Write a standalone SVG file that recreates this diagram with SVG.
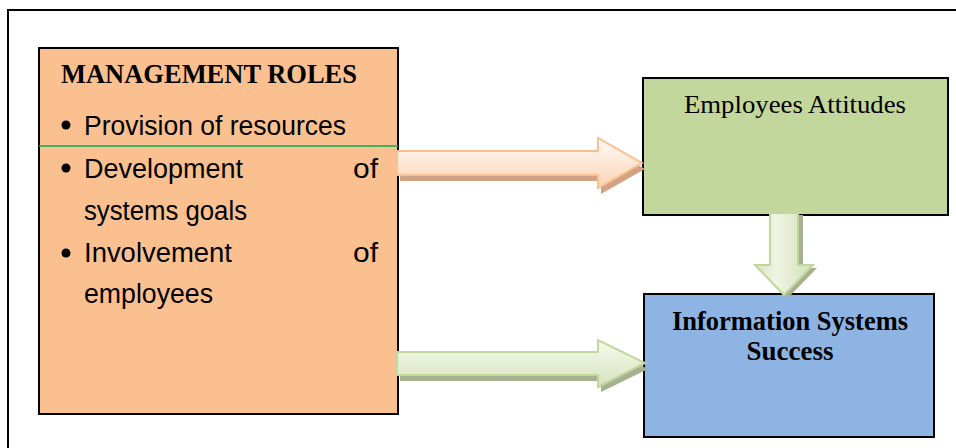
<svg xmlns="http://www.w3.org/2000/svg" width="956" height="448" viewBox="0 0 956 448">
<defs>
<style>
.box{stroke:#000;stroke-width:2}
.serif{font-family:"Liberation Serif","Times New Roman",serif;font-size:26px;fill:#000}
.sans{font-family:"Liberation Sans",Arial,sans-serif;font-size:27px;fill:#000}
.b{font-weight:bold;font-size:27px}
</style>
<linearGradient id="gOr" x1="0" y1="0" x2="0" y2="1">
<stop offset="0" stop-color="#fffaf6"/><stop offset="1" stop-color="#fbd3b3"/>
</linearGradient>
<linearGradient id="gGr" x1="0" y1="0" x2="0" y2="1">
<stop offset="0" stop-color="#f6f9ef"/><stop offset="1" stop-color="#d6e3bc"/>
</linearGradient>
<linearGradient id="gGrV" x1="0" y1="0" x2="1" y2="0">
<stop offset="0" stop-color="#d6e3bc"/><stop offset="0.35" stop-color="#eef4e3"/><stop offset="1" stop-color="#d3e1b8"/>
</linearGradient>
</defs>
<rect width="956" height="448" fill="#fff"/>
<path d="M8,448 V10 H956" fill="none" stroke="#000" stroke-width="2"/>

<g id="management-roles">
<rect class="box" x="39" y="48" width="359" height="366" fill="#fac090"/>
<line x1="39" y1="146" x2="398" y2="146" stroke="#00b050" stroke-width="1.5"/>
<text class="serif b" x="61" y="83" textLength="296" lengthAdjust="spacingAndGlyphs">MANAGEMENT ROLES</text>
<circle cx="66" cy="125" r="4.5"/>
<text class="sans" x="84" y="135" textLength="262" lengthAdjust="spacingAndGlyphs">Provision of resources</text>
<circle cx="66" cy="168" r="4.5"/>
<text class="sans" x="84" y="178" textLength="159" lengthAdjust="spacingAndGlyphs">Development</text>
<text class="sans" x="353" y="178" textLength="25" lengthAdjust="spacingAndGlyphs">of</text>
<text class="sans" x="84" y="220" textLength="163" lengthAdjust="spacingAndGlyphs">systems goals</text>
<circle cx="66" cy="253" r="4.5"/>
<text class="sans" x="84" y="262" textLength="148" lengthAdjust="spacingAndGlyphs">Involvement</text>
<text class="sans" x="353" y="262" textLength="25" lengthAdjust="spacingAndGlyphs">of</text>
<text class="sans" x="84" y="303" textLength="129" lengthAdjust="spacingAndGlyphs">employees</text>
</g>

<g id="employees-attitudes">
<rect class="box" x="643" y="78" width="305" height="137" fill="#c3d69b"/>
<text class="serif" x="795" y="113" text-anchor="middle" textLength="222" lengthAdjust="spacingAndGlyphs">Employees Attitudes</text>
</g>

<g id="is-success">
<rect class="box" x="644" y="294" width="290" height="143" fill="#8eb4e3"/>
<text class="serif b" x="790" y="330" text-anchor="middle" textLength="236" lengthAdjust="spacingAndGlyphs">Information Systems</text>
<text class="serif b" x="790" y="360" text-anchor="middle">Success</text>
</g>

<g id="connectors">
<path d="M400,157 H601 V144 L645,169 L601,194 V181 H400 Z" fill="#d2a383"/>
<path d="M397,151 H598 V138 L642,163 L598,188 V175 H397 Z" fill="url(#gOr)" stroke="#fac090" stroke-width="2"/>
<path d="M400,358 H601 V346 L648,369 L601,392 V381 H400 Z" fill="#a6b190"/>
<path d="M397,352 H598 V340 L645,363 L598,387 V375 H397 Z" fill="url(#gGr)" stroke="#c3d69b" stroke-width="2"/>
<path d="M775,215 H803 V268 H817 L788,298 L759,268 H775 Z" fill="#a6b190"/>
<path d="M770,213 H798 V265 H813 L784,295 L755,265 H770 Z" fill="url(#gGrV)" stroke="#c3d69b" stroke-width="2"/>
</g>
</svg>
